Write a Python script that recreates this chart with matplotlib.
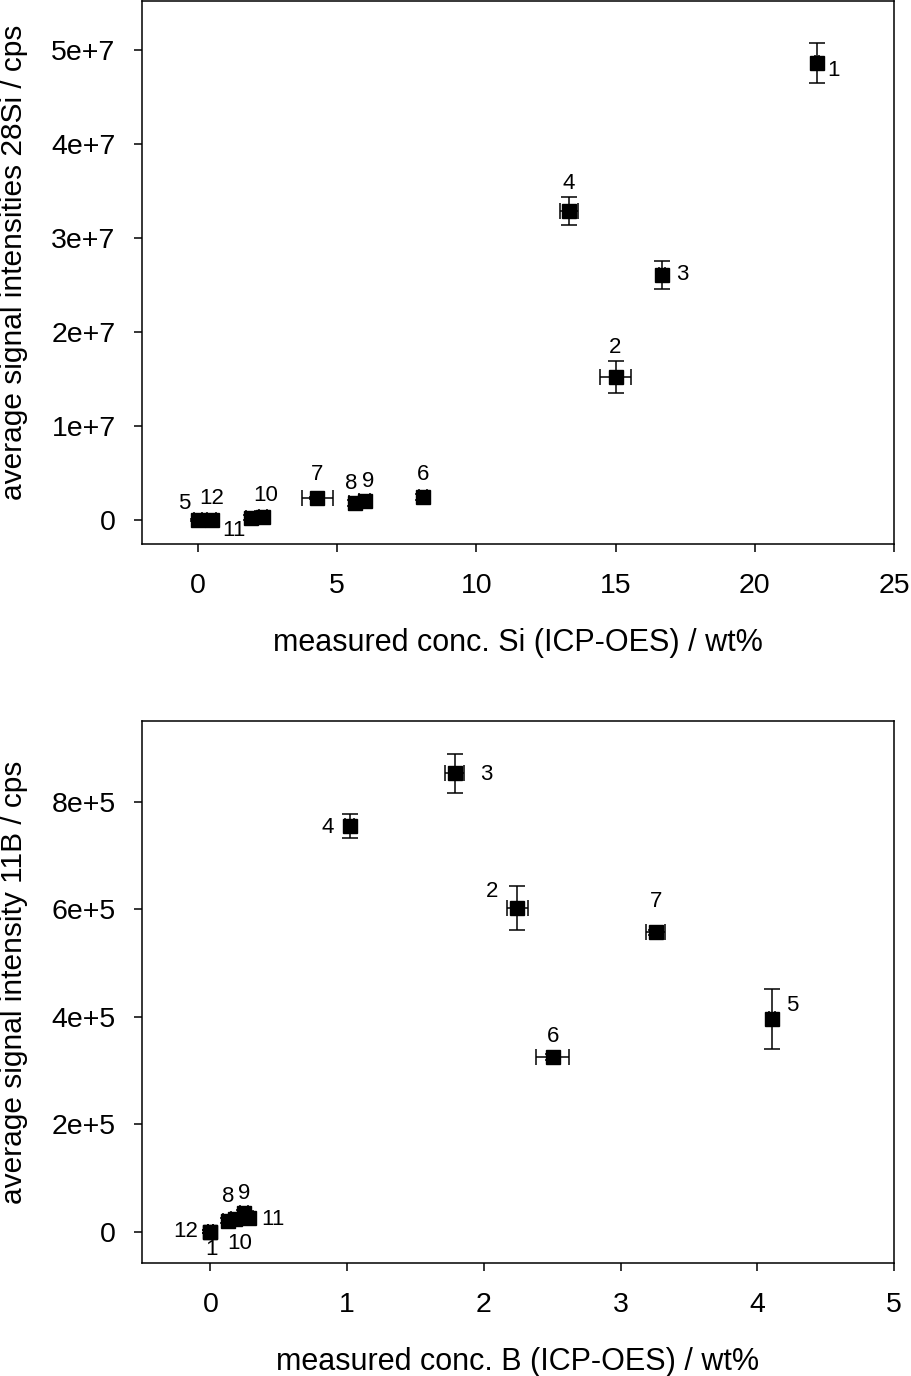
import matplotlib
matplotlib.use("Agg")
import matplotlib.pyplot as plt

plt.rcParams['font.family'] = ['Liberation Sans', 'DejaVu Sans']

# ---- Top panel: Si ----
si_labels = ['1', '2', '3', '4', '5', '6', '7', '8', '9', '10', '11', '12']
si_x = [22.23, 15.0, 16.66, 13.33, 0.0, 8.1, 4.3, 5.64, 6.0, 2.35, 1.9, 0.5]
si_y = [4.86e7, 1.525e7, 2.61e7, 3.29e7, 0.0, 2.5e6, 2.4e6, 1.88e6, 2.1e6, 4.0e5, 3.0e5, 0.0]
si_xerr = [0.08, 0.55, 0.1, 0.31, 0.15, 0.15, 0.56, 0.2, 0.2, 0.15, 0.15, 0.15]
si_yerr = [2.1e6, 1.7e6, 1.5e6, 1.5e6, 1e5, 3e5, 1e5, 3e5, 3e5, 3e5, 3e5, 1e5]
si_label_off = [(12, -5), (0, 21), (15, 0), (0, 19.5), (-10, 12), (0, 16), (0, 16.5),
                (-2.5, 13.5), (2.5, 13.5), (2, 15), (-12, -9), (0, 16)]
si_xticks = [0, 5, 10, 15, 20, 25]
si_yticks = [0, 1e7, 2e7, 3e7, 4e7, 5e7]
si_yticklabels = ['0', '1e+7', '2e+7', '3e+7', '4e+7', '5e+7']

# ---- Bottom panel: B ----
b_labels = ['1', '2', '3', '4', '5', '6', '7', '8', '9', '10', '11', '12']
b_x = [0.0, 2.246, 1.786, 1.018, 4.106, 2.505, 3.256, 0.126, 0.244, 0.18, 0.28, 0.0]
b_y = [0.0, 6.03e5, 8.53e5, 7.55e5, 3.96e5, 3.25e5, 5.57e5, 2.1e4, 3.5e4, 2.4e4, 2.6e4, 0.0]
b_xerr = [0.02, 0.075, 0.067, 0.03, 0.02, 0.12, 0.07, 0.03, 0.03, 0.03, 0.03, 0.02]
b_yerr = [3e3, 4.1e4, 3.6e4, 2.2e4, 5.6e4, 5e3, 5e3, 5e3, 5e3, 5e3, 5e3, 3e3]
b_label_off = [(0.5, -12.5), (-18.5, 11.5), (22.5, -1), (-15.5, -1.5), (15, 10), (0, 15),
               (0, 22.5), (0.5, 17.5), (0, 14), (3.5, -18), (17.5, -1.5), (-18, 0)]
b_xticks = [0, 1, 2, 3, 4, 5]
b_yticks = [0, 2e5, 4e5, 6e5, 8e5]
b_yticklabels = ['0', '2e+5', '4e+5', '6e+5', '8e+5']

fig = plt.figure(figsize=(9.12, 13.76), dpi=100)
ax1 = fig.add_axes([0.1557, 0.6047, 0.8246, 0.3946])
ax2 = fig.add_axes([0.1557, 0.0821, 0.8246, 0.3939])


def panel(ax, x, y, xerr, yerr, labels, offs, xticks, yticks, yticklabels,
          xlim, ylim, xlabel, ylabel):
    ax.errorbar(x, y, xerr=xerr, yerr=yerr, fmt='s', color='black', ms=9.5,
                ecolor='black', elinewidth=1.1, capsize=6, capthick=1.1, zorder=3)
    for xi, yi, lab, off in zip(x, y, labels, offs):
        ax.annotate(lab, (xi, yi), xytext=off, textcoords='offset points',
                    ha='center', va='center', fontsize=16)
    ax.set_xlim(*xlim)
    ax.set_ylim(*ylim)
    ax.set_xticks(xticks)
    ax.set_xticklabels([str(t) for t in xticks])
    ax.set_yticks(yticks)
    ax.set_yticklabels(yticklabels)
    ax.tick_params(direction='out', length=6, width=1.1, labelsize=20.5,
                   top=False, right=False)
    ax.tick_params(axis='x', pad=15)
    ax.tick_params(axis='y', pad=13)
    for s in ax.spines.values():
        s.set_linewidth(1.1)
    ax.set_xlabel(xlabel, fontsize=22, labelpad=21)
    ax.set_ylabel(ylabel, fontsize=21.5)
    ax.yaxis.set_label_coords(-0.152, 0.518)


panel(ax1, si_x, si_y, si_xerr, si_yerr, si_labels, si_label_off, si_xticks,
      si_yticks, si_yticklabels, (-2, 25), (-2.5e6, 5.52e7),
      'measured conc. Si (ICP-OES) / wt%', 'average signal intensities 28Si / cps')
panel(ax2, b_x, b_y, b_xerr, b_yerr, b_labels, b_label_off, b_xticks,
      b_yticks, b_yticklabels, (-0.5, 5), (-0.58e5, 9.5e5),
      'measured conc. B (ICP-OES) / wt%', 'average signal intensity 11B / cps')

fig.savefig('out.png', dpi=100)
